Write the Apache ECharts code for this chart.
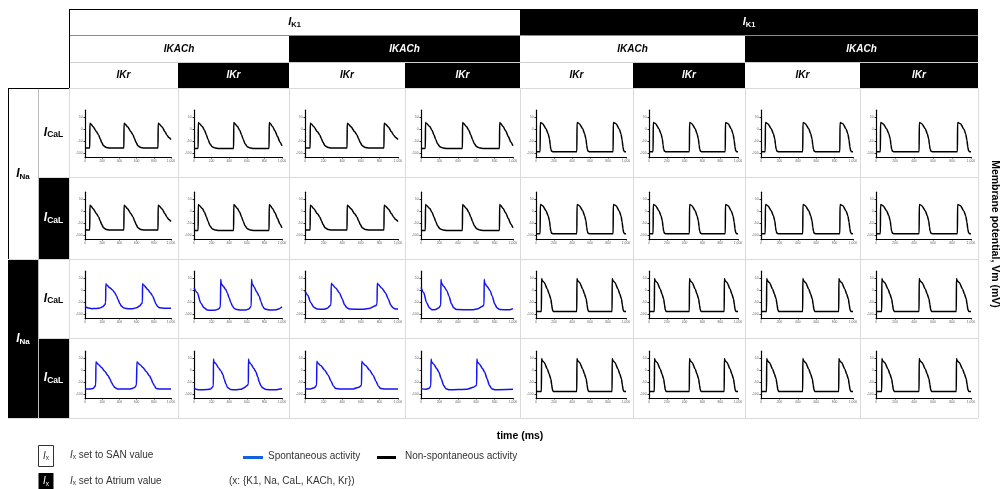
<!DOCTYPE html>
<html>
<head>
<meta charset="utf-8">
<script src="https://cdn.jsdelivr.net/npm/echarts@6/dist/echarts.min.js"></script>
<style>
  html, body { margin: 0; padding: 0; background: #ffffff; }
  #chart { width: 1008px; height: 489px; }
</style>
</head>
<body>
<div id="chart"></div>
<script>
// ---------------- data ----------------
// Axis ticks of every small panel
const timeTicks = [0, 200, 400, 600, 800, 1000];
const vmTicks = [-100, -50, 0, 50];

// Which value (SAN or Atrium) each current is set to, per header cell
const k1State = ['SAN', 'Atrium'];                         // spans 4 columns each
const kachState = ['SAN', 'Atrium', 'SAN', 'Atrium'];      // spans 2 columns each
const krState = ['SAN', 'Atrium', 'SAN', 'Atrium', 'SAN', 'Atrium', 'SAN', 'Atrium'];
const naState = ['SAN', 'Atrium'];                         // spans 2 rows each
const calState = ['SAN', 'Atrium', 'SAN', 'Atrium'];

// Membrane potential traces: [time (ms), Vm (mV)]
const apK1sanKrSan = [[0,-78],[55,-78],[57,26],[65,24],[95,11],[134,-10],[160,-24],[175,-38],[195,-55],[215,-68],[248,-75],[286,-77],[330,-78],[452,-78],[454,26],[462,24],[496,11],[534,-10],[560,-24],[575,-38],[595,-55],[615,-68],[648,-75],[687,-77],[730,-78],[849,-78],[851,26],[860,24],[897,10],[930,-10],[954,-24],[975,-34],[1000,-42]];
const apK1sanKrAtr = [[0,-80],[47,-80],[49,29],[57,26],[95,12],[120,-4],[140,-22],[160,-42],[180,-60],[205,-72],[240,-78],[280,-80],[450,-80],[452,29],[460,26],[494,12],[520,-4],[540,-22],[560,-42],[580,-60],[605,-72],[640,-78],[680,-80],[853,-80],[855,29],[863,26],[893,12],[920,-6],[950,-30],[975,-52],[1000,-68]];
const apK1atr = [[0,-93],[46,-93],[48,29],[60,27],[74,24],[111,3],[135,-18],[150,-40],[158,-65],[165,-84],[175,-91],[190,-93],[454,-93],[456,29],[468,27],[481,24],[519,3],[540,-18],[555,-40],[563,-65],[570,-84],[580,-91],[595,-93],[857,-93],[859,29],[871,27],[889,24],[926,1],[945,-20],[957,-45],[966,-72],[974,-88],[985,-93],[1000,-93]];
const apK1atrNaAtr = [[0,-88],[60,-88],[62,50],[70,40],[91,33],[127,5],[145,-14],[164,-35],[175,-60],[182,-80],[192,-88],[453,-88],[455,50],[463,40],[484,33],[520,5],[538,-14],[557,-35],[568,-60],[575,-80],[585,-88],[845,-88],[847,50],[855,40],[876,33],[912,5],[930,-14],[949,-35],[960,-60],[967,-80],[977,-88],[1000,-88]];
const spontR3C1 = [[0,-68],[40,-73],[77,-76],[130,-75],[173,-73],[205,-68],[231,-60],[240,-52],[242,28],[250,24],[288,11],[320,2],[346,-10],[368,-24],[384,-38],[405,-55],[423,-65],[445,-72],[461,-74],[510,-76],[557,-76],[600,-72],[634,-65],[660,-55],[668,-48],[669,28],[678,24],[730,4],[760,-10],[788,-24],[808,-42],[826,-58],[845,-67],[865,-72],[930,-74],[1000,-74]];
const spontR3C2 = [[0,11],[38,-10],[76,-52],[114,-72],[152,-82],[200,-83],[247,-82],[285,-76],[300,-68],[304,46],[310,28],[330,18],[361,4],[380,-12],[399,-31],[418,-50],[437,-65],[455,-74],[475,-79],[530,-82],[589,-82],[627,-76],[650,-66],[654,46],[660,28],[684,14],[710,-5],[741,-24],[760,-46],[779,-65],[800,-76],[817,-79],[870,-82],[931,-81],[970,-76],[1000,-68]];
const spontR3C3 = [[0,-2],[30,-20],[60,-50],[95,-70],[130,-78],[200,-79],[240,-74],[270,-64],[280,-58],[282,30],[290,26],[330,10],[370,-10],[400,-35],[425,-60],[450,-72],[480,-78],[620,-79],[700,-74],[760,-64],[775,-56],[777,30],[785,26],[825,10],[865,-10],[895,-35],[920,-60],[945,-72],[975,-78],[1000,-78]];
const spontR3C4 = [[0,12],[30,-10],[60,-50],[90,-72],[120,-81],[160,-80],[195,-72],[215,-62],[217,46],[223,30],[245,18],[280,0],[305,-25],[330,-55],[355,-72],[385,-80],[560,-81],[620,-76],[670,-66],[685,-60],[687,46],[693,30],[715,18],[750,0],[775,-25],[800,-55],[825,-72],[855,-80],[960,-81],[1000,-76]];
const spontR4C1 = [[0,-78],[50,-77],[96,-75],[115,-67],[125,-60],[127,36],[135,32],[160,24],[192,12],[230,-4],[269,-22],[290,-36],[308,-50],[330,-64],[346,-71],[385,-78],[450,-78],[519,-78],[550,-75],[577,-71],[598,-62],[604,36],[612,32],[640,24],[673,12],[710,-4],[750,-22],[770,-36],[788,-52],[810,-66],[827,-75],[870,-78],[1000,-78]];
const spontR4C2 = [[0,-75],[38,-80],[57,-81],[150,-80],[190,-77],[210,-70],[220,-64],[221,47],[228,34],[247,29],[280,10],[304,-1],[330,-18],[342,-36],[365,-58],[380,-71],[418,-80],[475,-81],[530,-79],[570,-72],[600,-64],[618,-58],[619,47],[626,34],[646,27],[680,8],[703,-6],[725,-28],[741,-48],[760,-64],[779,-72],[817,-80],[900,-81],[1000,-76]];
const spontR4C3 = [[0,-76],[60,-77],[100,-72],[125,-62],[127,38],[135,32],[170,20],[210,2],[250,-20],[280,-45],[305,-65],[330,-75],[380,-78],[520,-77],[580,-70],[608,-62],[610,38],[618,32],[653,20],[693,2],[733,-20],[763,-45],[788,-65],[813,-75],[863,-78],[1000,-77]];
const spontR4C4 = [[0,-76],[50,-79],[90,-74],[107,-64],[109,47],[116,34],[136,27],[170,8],[195,-8],[220,-35],[245,-62],[270,-76],[310,-81],[500,-79],[570,-70],[605,-62],[607,47],[614,34],[634,27],[668,8],[693,-8],[718,-35],[743,-62],[768,-76],[808,-81],[1000,-79]];

// Trace shown in each panel (rows: INa/ICaL combinations, columns: IK1/IKACh/IKr combinations)
const panelTraces = [
  [apK1sanKrSan, apK1sanKrAtr, apK1sanKrSan, apK1sanKrAtr, apK1atr, apK1atr, apK1atr, apK1atr],
  [apK1sanKrSan, apK1sanKrAtr, apK1sanKrSan, apK1sanKrAtr, apK1atr, apK1atr, apK1atr, apK1atr],
  [spontR3C1, spontR3C2, spontR3C3, spontR3C4, apK1atrNaAtr, apK1atrNaAtr, apK1atrNaAtr, apK1atrNaAtr],
  [spontR4C1, spontR4C2, spontR4C3, spontR4C4, apK1atrNaAtr, apK1atrNaAtr, apK1atrNaAtr, apK1atrNaAtr]
];
const panelSpontaneous = [
  [false, false, false, false, false, false, false, false],
  [false, false, false, false, false, false, false, false],
  [true, true, true, true, false, false, false, false],
  [true, true, true, true, false, false, false, false]
];

// ---------------- layout & style ----------------
const FF = '"Liberation Sans", Arial, Helvetica, sans-serif';
const fillOf = { SAN: '#ffffff', Atrium: '#000000' };
const inkOf = { SAN: '#000000', Atrium: '#ffffff' };
const colEdges = [69, 178, 289, 405, 520, 633, 745, 860, 978];
const rowEdges = [88, 177, 259, 338, 418];
const headTop = 9, headMid1 = 35, headMid2 = 62, headBot = 88;
const naX0 = 8, calX0 = 38, calX1 = 69;
const VM_MIN = -115, VM_MAX = 80;
const PX_PER_MV = 0.24;
const SPONT_COLOR = '#1414f0';
const LINE_GRID = '#dadada';
const LEGEND_INK = '#333333';

const els = [];
function rect(x, y, w, h, fill, stroke) {
  els.push({ type: 'rect', silent: true, shape: { x: x, y: y, width: w, height: h },
    style: { fill: fill, stroke: stroke || null, lineWidth: stroke ? 1 : 0 } });
}
function line(x1, y1, x2, y2, color, w) {
  els.push({ type: 'line', silent: true, shape: { x1: x1, y1: y1, x2: x2, y2: y2 },
    style: { stroke: color, lineWidth: w || 1 } });
}
// Current symbol "I" with a subscript, e.g. I_K1
function currentLabel(cx, cy, sub, ink, big, small) {
  els.push({ type: 'text', silent: true, x: cx, y: cy, style: {
    text: '{a|I}{b|' + sub + '}', align: 'center', verticalAlign: 'middle',
    rich: {
      a: { fontFamily: FF, fontSize: big, fontWeight: 'bold', fontStyle: 'italic', fill: ink, lineHeight: big + 4, verticalAlign: 'middle' },
      b: { fontFamily: FF, fontSize: small, fontWeight: 'bold', fill: ink, lineHeight: big + 4, verticalAlign: 'bottom', padding: [0, 0, 1, 0] }
    } } });
}
function plainText(x, y, txt, opts) {
  els.push({ type: 'text', silent: true, x: x, y: y, rotation: opts.rotation || 0, style: Object.assign({
    text: txt, fontFamily: FF, fontSize: 10, fill: '#000', align: 'left', verticalAlign: 'middle' }, opts.style || {}) });
}

// --- column headers ---
k1State.forEach(function (s, i) {
  const x0 = colEdges[i * 4], x1 = colEdges[i * 4 + 4];
  rect(x0, headTop, x1 - x0, headMid1 - headTop, fillOf[s]);
  currentLabel((x0 + x1) / 2, (headTop + headMid1) / 2, 'K1', inkOf[s], 11, 7.5);
});
kachState.forEach(function (s, i) {
  const x0 = colEdges[i * 2], x1 = colEdges[i * 2 + 2];
  rect(x0, headMid1, x1 - x0, headMid2 - headMid1, fillOf[s]);
  plainText((x0 + x1) / 2, (headMid1 + headMid2) / 2 + 0.5, 'IKACh', { style: { align: 'center', fontWeight: 'bold', fontStyle: 'italic', fontSize: 10, fill: inkOf[s] } });
});
krState.forEach(function (s, i) {
  const x0 = colEdges[i], x1 = colEdges[i + 1];
  rect(x0, headMid2, x1 - x0, headBot - headMid2, fillOf[s]);
  plainText((x0 + x1) / 2, (headMid2 + headBot) / 2 + 0.5, 'IKr', { style: { align: 'center', fontWeight: 'bold', fontStyle: 'italic', fontSize: 10, fill: inkOf[s] } });
});

// --- row headers ---
naState.forEach(function (s, i) {
  const y0 = rowEdges[i * 2], y1 = rowEdges[i * 2 + 2];
  rect(naX0, y0, calX0 - naX0, y1 - y0, fillOf[s]);
  currentLabel((naX0 + calX0) / 2, (y0 + y1) / 2, 'Na', inkOf[s], 12, 8);
});
calState.forEach(function (s, i) {
  const y0 = rowEdges[i], y1 = rowEdges[i + 1];
  rect(calX0, y0, calX1 - calX0, y1 - y0, fillOf[s]);
  currentLabel((calX0 + calX1) / 2, (y0 + y1) / 2, 'CaL', inkOf[s], 12, 8.5);
});

// --- cell separators ---
colEdges.forEach(function (x) { line(x + 0.5, rowEdges[0], x + 0.5, rowEdges[4], LINE_GRID, 1); });
rowEdges.forEach(function (y, i) {
  const x0 = i === 0 ? calX1 : (i % 2 === 0 ? naX0 : calX0);
  line(x0, y + 0.5, colEdges[8], y + 0.5, LINE_GRID, 1);
});
line(calX0 + 0.5, rowEdges[0], calX0 + 0.5, rowEdges[4], '#bdbdbd', 1);
line(calX1, headMid1 + 0.5, colEdges[8], headMid1 + 0.5, '#8a8a8a', 1);
line(calX1, headMid2 + 0.5, colEdges[8], headMid2 + 0.5, '#cfcfcf', 1);
line(calX1, headTop + 0.5, colEdges[4], headTop + 0.5, '#000', 1);
line(calX1 + 0.5, headTop, calX1 + 0.5, headBot, '#000', 1);
line(naX0, rowEdges[0] + 0.5, calX1, rowEdges[0] + 0.5, '#000', 1);
line(naX0 + 0.5, rowEdges[0], naX0 + 0.5, rowEdges[2], '#000', 1);

// --- axis titles ---
plainText(520, 436, 'time (ms)', { style: { align: 'center', fontWeight: 'bold', fontSize: 10.5 } });
plainText(995, 234, 'Membrane potential, Vm (mV)', { rotation: -Math.PI / 2, style: { align: 'center', fontWeight: 'bold', fontSize: 10.5 } });

// --- legend ---
rect(38.5, 445.5, 15, 21, '#ffffff', LEGEND_INK);
rect(38.5, 473, 15, 17, '#000000');
[[46, 456, LEGEND_INK], [46, 481.5, '#fff']].forEach(function (p) {
  els.push({ type: 'text', silent: true, x: p[0], y: p[1], style: { text: '{a|I}{b|x}', align: 'center', verticalAlign: 'middle',
    rich: { a: { fontFamily: FF, fontSize: 10, fontStyle: 'italic', fill: p[2], lineHeight: 12 },
            b: { fontFamily: FF, fontSize: 6.5, fill: p[2], lineHeight: 12, verticalAlign: 'bottom' } } } });
});
[[70, 455, ' set to SAN value'], [70, 481, ' set to Atrium value']].forEach(function (p) {
  els.push({ type: 'text', silent: true, x: p[0], y: p[1], style: { text: '{a|I}{b|x}{c|' + p[2] + '}', align: 'left', verticalAlign: 'middle',
    rich: { a: { fontFamily: FF, fontSize: 10, fontStyle: 'italic', fill: LEGEND_INK, lineHeight: 12 },
            b: { fontFamily: FF, fontSize: 6.5, fill: LEGEND_INK, lineHeight: 12, verticalAlign: 'bottom' },
            c: { fontFamily: FF, fontSize: 10, fill: LEGEND_INK, lineHeight: 12 } } } });
});
line(243, 457.5, 263, 457.5, '#1560e0', 3);
plainText(268, 456, 'Spontaneous activity', { style: { fontSize: 10, fill: LEGEND_INK } });
line(377, 457.5, 396, 457.5, '#000', 3);
plainText(405, 456, 'Non-spontaneous activity', { style: { fontSize: 10, fill: LEGEND_INK } });
plainText(229, 481, '(x: {K1, Na, CaL, KACh, Kr})', { style: { fontSize: 10, fill: LEGEND_INK } });

// ---------------- panels ----------------
const grids = [], xAxes = [], yAxes = [], series = [];
const plotH = (VM_MAX - VM_MIN) * PX_PER_MV;
panelTraces.forEach(function (row, r) {
  row.forEach(function (trace, c) {
    const idx = grids.length;
    const bottomY = rowEdges[r + 1] - 20;
    grids.push({ left: colEdges[c] + 16, top: bottomY - plotH, width: colEdges[c + 1] - colEdges[c] - 23, height: plotH,
      containLabel: false, outerBoundsMode: 'none' });
    xAxes.push({ type: 'value', gridIndex: idx, min: timeTicks[0], max: timeTicks[timeTicks.length - 1], interval: timeTicks[1] - timeTicks[0],
      axisLine: { show: true, onZero: false, lineStyle: { color: '#000', width: 1.2 } },
      axisTick: { show: true, length: 1.5, lineStyle: { color: '#000', width: 0.8 } },
      axisLabel: { fontSize: 3.3, color: '#666', margin: 2.5, fontFamily: FF },
      splitLine: { show: false } });
    yAxes.push({ type: 'value', gridIndex: idx, min: VM_MIN, max: VM_MAX,
      axisLine: { show: true, onZero: false, lineStyle: { color: '#000', width: 1.2 } },
      axisTick: { show: true, length: 1.5, customValues: vmTicks, lineStyle: { color: '#000', width: 0.8 } },
      axisLabel: { fontSize: 3.3, color: '#666', margin: 2.5, fontFamily: FF, customValues: vmTicks },
      splitLine: { show: false } });
    series.push({ type: 'line', xAxisIndex: idx, yAxisIndex: idx, data: trace, showSymbol: false, silent: true,
      smooth: 0.25, smoothMonotone: 'x',
      lineStyle: { color: panelSpontaneous[r][c] ? SPONT_COLOR : '#000', width: 1.5 } });
  });
});

const chart = echarts.init(document.getElementById('chart'), null, { renderer: 'canvas' });
chart.setOption({
  animation: false,
  backgroundColor: '#ffffff',
  grid: grids,
  xAxis: xAxes,
  yAxis: yAxes,
  series: series,
  graphic: { elements: els }
});
</script>
</body>
</html>
